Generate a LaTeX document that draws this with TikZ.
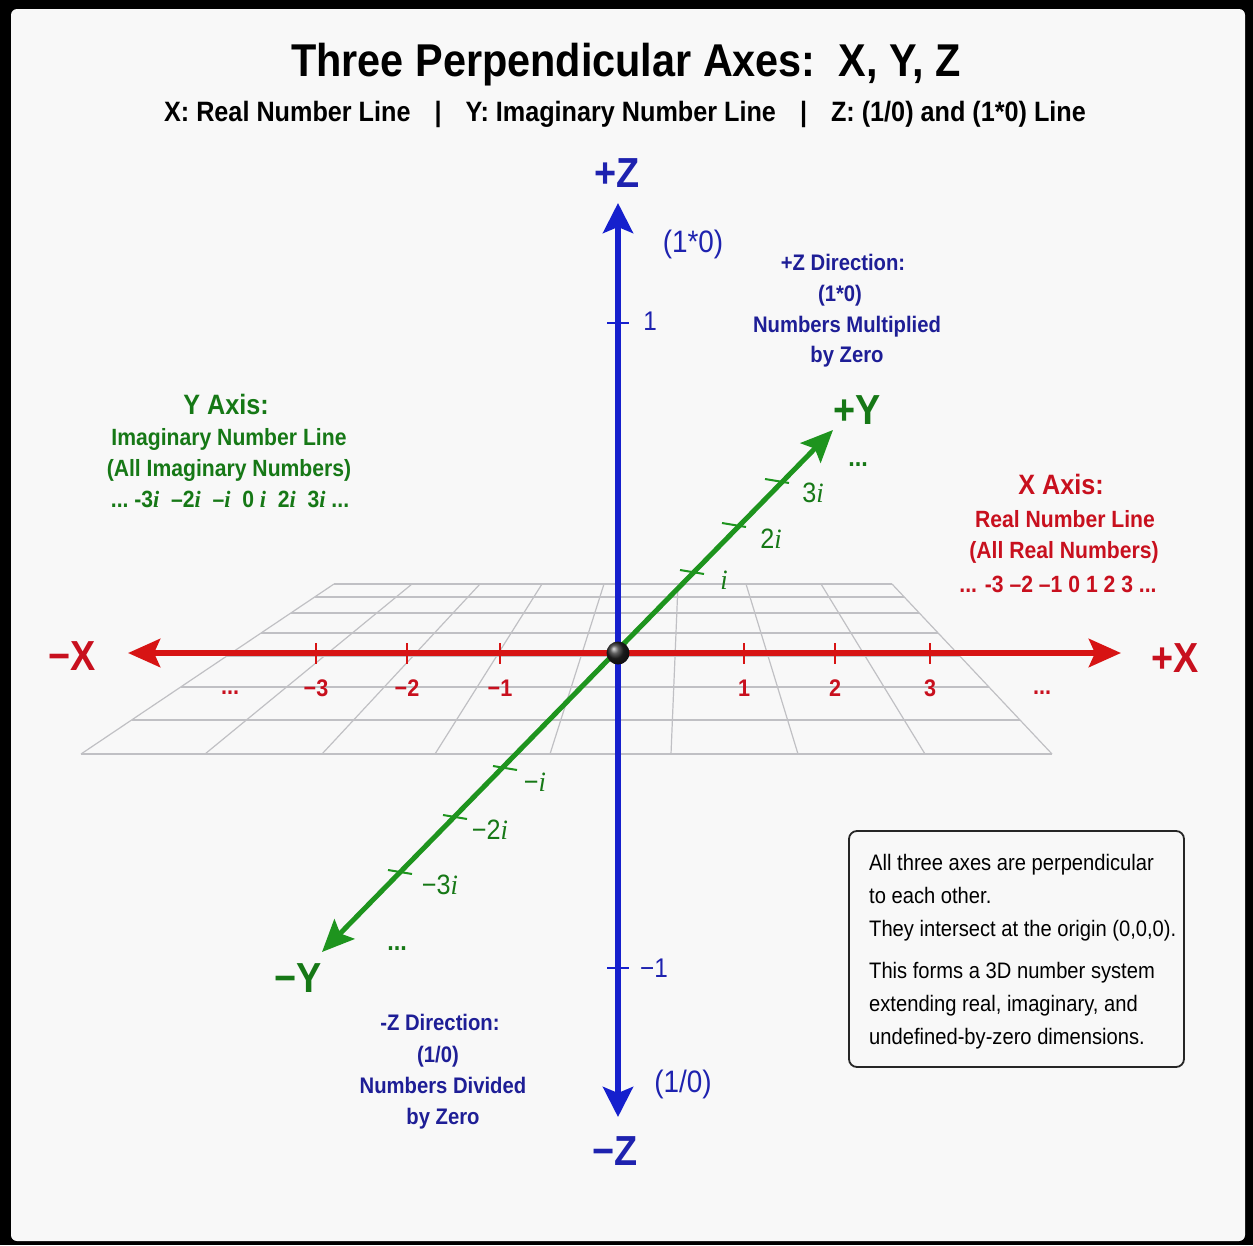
\documentclass[tikz,border=0pt]{standalone}
\usepackage{fontspec}
\setmainfont{Liberation Sans}[FakeStretch=0.9]
\newfontfamily\serifit{Liberation Serif}[FakeStretch=0.95]
\usetikzlibrary{arrows.meta,calc}
\newcommand{\fsz}[1]{\fontsize{#1}{#1}\selectfont}
\newcommand{\im}{{\serifit\itshape i}}
\definecolor{axred}{RGB}{215,20,20}
\definecolor{txtred}{RGB}{200,16,30}
\definecolor{axblue}{RGB}{22,32,205}
\definecolor{lblblue}{RGB}{30,34,175}
\definecolor{txtblue}{RGB}{30,30,150}
\definecolor{axgreen}{RGB}{30,148,30}
\definecolor{txtgreen}{RGB}{22,120,22}
\definecolor{bgc}{RGB}{248,248,248}
\definecolor{gridc}{RGB}{192,192,196}
\tikzset{
  gridline/.style={gridc, line width=1.2pt},
  xaxisline/.style={axred, line width=6pt, {Stealth[length=32pt,width=28pt,inset=6pt]}-{Stealth[length=32pt,width=28pt,inset=6pt]}},
  yaxisline/.style={axgreen, line width=5pt, {Stealth[length=32pt,width=28pt,inset=6pt]}-{Stealth[length=32pt,width=28pt,inset=6pt]}},
  zaxisline/.style={axblue, line width=5.5pt, {Stealth[length=30pt,width=30pt,inset=6pt]}-{Stealth[length=30pt,width=30pt,inset=6pt]}},
  xtick/.style={axred, line width=2pt},
  ytick/.style={axgreen, line width=2pt},
  ztick/.style={axblue, line width=2.5pt},
  axlabel/.style={font=\fsz{42}\bfseries, inner sep=0pt, anchor=base},
  xnum/.style={txtred, font=\fsz{24}\bfseries, inner sep=0pt, anchor=base},
  ynum/.style={txtgreen, font=\fsz{28}, inner sep=0pt, anchor=base},
  dots/.style={font=\fsz{26}\bfseries, inner sep=0pt, anchor=base},
  znum/.style={lblblue, font=\fsz{27}, inner sep=0pt, anchor=base},
  blockhead/.style={font=\fsz{28}\bfseries, inner sep=0pt, anchor=base},
  blockline/.style={font=\fsz{22.5}\bfseries, inner sep=0pt, anchor=base},
  axblockline/.style={font=\fsz{23.5}\bfseries, inner sep=0pt, anchor=base},
}
\begin{document}
\begin{tikzpicture}[x=1pt,y=-1pt]
% frame and background
\fill[black] (0,0) rectangle (1253,1245);
\fill[bgc, rounded corners=6pt] (11,9) rectangle (1245,1241);
\useasboundingbox (0,0) rectangle (1253,1245);

% title
\node[anchor=base, inner sep=0pt, font=\fsz{46}\bfseries] (title) at (626,76) {Three Perpendicular Axes:\ \ X, Y, Z};
\node[anchor=base, inner sep=0pt, font=\fsz{28}\bfseries] (subtitle) at (625,121)
  {X: Real Number Line\hspace{24pt}|\hspace{24pt}Y: Imaginary Number Line\hspace{24pt}|\hspace{24pt}Z: (1/0) and (1*0) Line};

% perspective grid plane
\coordinate (TL) at (334,584);
\coordinate (TR) at (892,584);
\coordinate (BL) at (81,754);
\coordinate (BR) at (1052,754);
\foreach \yy in {584,597,613,633,656,687,720,754} {
  \pgfmathsetmacro\tt{(\yy-584)/170}
  \draw[gridline] ($(TL)!\tt!(BL)$) -- ($(TR)!\tt!(BR)$);
}
\foreach \a/\b in {334/81,412/205,480/322,542/435,604/550,678/671,746/798,821/925,892/1052} {
  \draw[gridline] (\a,584) -- (\b,754);
}

% axis end points
\coordinate (O) at (618,653);
\coordinate (xneg) at (128,653);
\coordinate (xpos) at (1121,653);
\coordinate (yneg) at (322,952);
\coordinate (ypos) at (833,430);
\coordinate (zneg) at (618,1117);
\coordinate (zpos) at (618,203);

% X axis
\draw[xaxisline] (xneg) -- (xpos);
\foreach \xx in {316,407,500,744,835,930} { \draw[xtick] (\xx,643) -- (\xx,664); }
\node[xnum] (xm3) at (316,696) {−3};
\node[xnum] (xm2) at (407,696) {−2};
\node[xnum] (xm1) at (500,696) {−1};
\node[xnum] (xp1) at (744,696) {1};
\node[xnum] (xp2) at (835,696) {2};
\node[xnum] (xp3) at (930,696) {3};
\node[xnum] (xdl) at (230,694) {...};
\node[xnum] (xdr) at (1042,694) {...};
\node[axlabel, txtred] (xminus) at (72,670) {−X};
\node[axlabel, txtred] (xplus) at (1175,672) {+X};

% Y axis
\draw[yaxisline] (yneg) -- (ypos);
\foreach \px/\py in {692/572,734/525,777/481,505/768,455/817,400/872} {
  \draw[ytick] (\px-12,\py-2) -- (\px+12,\py+2);
}
\node[ynum] (yp1) at (724,589) {\im};
\node[ynum] (yp2) at (771,548) {2\im};
\node[ynum] (yp3) at (813,502) {3\im};
\node[dots, txtgreen] (ydu) at (858,466) {...};
\node[ynum] (ym1) at (535,791) {−\im};
\node[ynum] (ym2) at (490,839) {−2\im};
\node[ynum] (ym3) at (440,894) {−3\im};
\node[dots, txtgreen] (ydd) at (397,950) {...};
\node[axlabel, txtgreen] (yplus) at (857,424) {+Y};
\node[axlabel, txtgreen] (yminus) at (298,992) {−Y};

% Z axis
\draw[zaxisline] (zneg) -- (zpos);
\draw[ztick] (607,323) -- (629,323);
\draw[ztick] (607,968) -- (629,968);
\node[znum] (zp1) at (650,330) {1};
\node[znum] (zm1) at (654,977) {−1};
\node[znum, font=\fsz{31}] (zmul) at (693,252) {(1*0)};
\node[znum, font=\fsz{31}] (zdiv) at (683,1092) {(1/0)};
\node[axlabel, lblblue] (zplus) at (617,187) {+Z};
\node[axlabel, lblblue] (zminus) at (615,1165) {−Z};

% origin
\node[circle, shading=ball, ball color=black!85, minimum size=23pt, inner sep=0pt] (origin) at (O) {};

% +Z direction block
\node[blockline, txtblue] (pz1) at (843,270) {+Z Direction:};
\node[blockline, txtblue] (pz2) at (840,301) {(1*0)};
\node[blockline, txtblue] (pz3) at (847,332) {Numbers Multiplied};
\node[blockline, txtblue] (pz4) at (847,362) {by Zero};

% -Z direction block
\node[blockline, txtblue] (mz1) at (440,1030) {-Z Direction:};
\node[blockline, txtblue] (mz2) at (438,1062) {(1/0)};
\node[blockline, txtblue] (mz3) at (443,1093) {Numbers Divided};
\node[blockline, txtblue] (mz4) at (443,1124) {by Zero};

% Y axis block
\node[blockhead, txtgreen] (ya1) at (226,414) {Y Axis:};
\node[axblockline, txtgreen] (ya2) at (229,445) {Imaginary Number Line};
\node[axblockline, txtgreen] (ya3) at (229,476) {(All Imaginary Numbers)};
\node[axblockline, txtgreen] (ya4) at (230,507) {...\ -3\im\ \ –2\im\ \ –\im\ \ 0\ \im\ \ 2\im\ \ 3\im\ ...};

% X axis block
\node[blockhead, txtred] (xa1) at (1061,494) {X Axis:};
\node[axblockline, txtred] (xa2) at (1065,527) {Real Number Line};
\node[axblockline, txtred] (xa3) at (1064,558) {(All Real Numbers)};
\node[axblockline, txtred] (xa4) at (1058,592) {... -3 –2 –1 0 1 2 3 ...};

% note box
\node[draw=black!85, line width=1.8pt, rounded corners=8pt, minimum width=335pt, minimum height=236pt, inner sep=0pt] (note) at (1016.5,949) {};
\node[anchor=north west, inner sep=0pt, align=left, font=\fontsize{22.4}{33}\selectfont] (notetext) at (869,854)
  {All three axes are perpendicular\\to each other.\\They intersect at the origin (0,0,0).\\[9pt]This forms a 3D number system\\extending real, imaginary, and\\undefined-by-zero dimensions.};
\end{tikzpicture}
\end{document}
